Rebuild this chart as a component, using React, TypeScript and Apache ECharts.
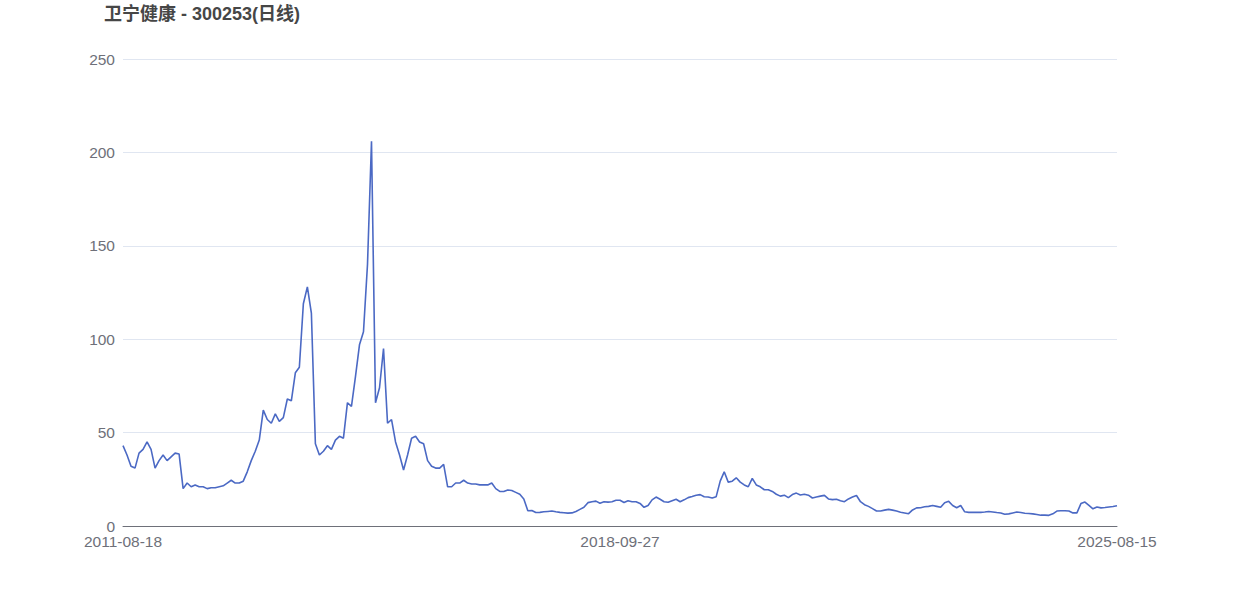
import React, { useEffect, useRef } from "react";
import * as echarts from "echarts";

const TITLE = "卫宁健康 - 300253(日线)";

// dates shown on the axis (first, middle, last sample)
const ANCHOR_DATES = ["2011-08-18", "2018-09-27", "2025-08-15"];

// closing prices, evenly spaced in time (249 samples)
const PRICES_2011_2013: number[] = [
  43, 38, 32, 31, 39, 41, 45, 41, 31, 35,
  38, 35, 37, 39, 38.5, 20, 23, 21, 22, 21,
  21, 20, 20.5, 20.5, 21, 21.5, 23, 24.5, 23, 23,
  24, 29,
];
const PRICES_2013_2015: number[] = [
  35, 40, 46, 62, 57, 55, 60, 56, 58, 68,
  67, 82, 85, 119, 128, 114, 44, 38, 40, 43,
  41, 46, 48, 47, 66, 64, 80, 97, 104, 140,
  206, 66, 74, 95, 55, 57, 45, 38, 30, 38,
  47, 48, 45, 44, 35, 32, 31, 31, 33,
];
const PRICES_2016_2018: number[] = [
  21, 21, 23, 23, 24.5, 23, 22.5, 22.5, 22, 22,
  22, 23, 20, 18.5, 18.5, 19.3, 19, 18, 17, 14.5,
  8.2, 8.3, 7.2, 7.3, 7.6, 7.8, 8, 7.6, 7.3, 7.1,
  6.9, 7, 7.8, 8.9, 10, 12.5, 13, 13.3, 12.2, 13,
  12.8, 13, 13.8, 13.8,
];
const PRICES_2018_2021: number[] = [
  12.6, 13.5, 13, 13, 12.1, 10, 11, 14, 15.5, 14.3,
  13, 12.7, 13.5, 14.3, 13, 14, 15.2, 15.8, 16.5, 16.8,
  15.7, 15.5, 15, 15.7, 24, 29, 23.5, 24, 25.8, 23.5,
  22, 21, 25.5, 22, 21, 19.4, 19.4, 18.5, 17, 16,
  16.5, 15.2, 16.8, 17.6, 16.6, 17, 16.5, 15, 15.5, 16,
  16.4, 14.5, 14.1, 14.3, 13.5, 13, 14.5, 15.5, 16.3, 13,
];
const PRICES_2022_2025: number[] = [
  11.4, 10.5, 9.3, 8, 8, 8.5, 8.9, 8.5, 8, 7.4,
  7, 6.6, 8.6, 9.7, 9.8, 10.3, 10.5, 11, 10.5, 10,
  12.5, 13.2, 11, 9.8, 11, 7.6, 7.3, 7.3, 7.3, 7.3,
  7.5, 7.8, 7.5, 7.2, 7, 6.3, 6.5, 7, 7.5, 7.2,
  6.8, 6.7, 6.5, 6.2, 5.8, 5.8, 5.7, 6.5, 8, 8.2,
  8.2, 8, 7, 7, 12, 12.8, 11, 9.2, 10.2, 9.7,
  9.9, 10.2, 10.4, 10.8,
];

const Y_MIN = 0;
const Y_MAX = 250;
const Y_STEP = 50;

const PRICES = [
  ...PRICES_2011_2013,
  ...PRICES_2013_2015,
  ...PRICES_2016_2018,
  ...PRICES_2018_2021,
  ...PRICES_2022_2025,
];

function buildDates(n: number): string[] {
  // category labels: spread between the three anchor dates
  const mid = Math.floor((n - 1) / 2);
  const t = ANCHOR_DATES.map((d) => Date.parse(d + "T00:00:00Z"));
  const out: string[] = [];
  for (let i = 0; i < n; i++) {
    let ms: number;
    if (i <= mid) ms = t[0] + ((t[1] - t[0]) * i) / mid;
    else ms = t[1] + ((t[2] - t[1]) * (i - mid)) / (n - 1 - mid);
    out.push(new Date(ms).toISOString().slice(0, 10));
  }
  out[0] = ANCHOR_DATES[0];
  out[mid] = ANCHOR_DATES[1];
  out[n - 1] = ANCHOR_DATES[2];
  return out;
}

export default function App() {
  const ref = useRef<HTMLDivElement>(null);

  useEffect(() => {
    if (!ref.current) return;
    const chart = echarts.init(ref.current, undefined, { renderer: "svg" });
    const n = PRICES.length;
    const dates = buildDates(n);
    const mid = Math.floor((n - 1) / 2);
    const font = "'Liberation Sans', Arial, 'Noto Sans CJK SC', sans-serif";

    chart.setOption({
      animation: false,
      title: {
        text: TITLE,
        left: 99,
        top: 0,
        textStyle: {
          fontSize: 18,
          fontWeight: "bold",
          color: "#464646",
          fontFamily: font,
        },
      },
      grid: { left: 123, right: 125, top: 59, bottom: 70, containLabel: false },
      xAxis: {
        type: "category",
        data: dates,
        boundaryGap: false,
        axisLine: { lineStyle: { color: "#6e7079" } },
        axisTick: { show: false },
        axisLabel: {
          color: "#6e7079",
          fontSize: 15.5,
          fontFamily: font,
          margin: 8,
          interval: (idx: number) => idx === 0 || idx === mid || idx === n - 1,
          showMinLabel: true,
          showMaxLabel: true,
        },
        splitLine: { show: false },
      },
      yAxis: {
        type: "value",
        min: Y_MIN,
        max: Y_MAX,
        interval: Y_STEP,
        axisLine: { show: false },
        axisTick: { show: false },
        axisLabel: {
          color: "#6e7079",
          fontSize: 15.5,
          fontFamily: font,
          margin: 8,
        },
        splitLine: { lineStyle: { color: "#e0e6f1" } },
      },
      series: [
        {
          type: "line",
          data: PRICES,
          symbol: "none",
          showSymbol: false,
          lineStyle: { color: "#4b69c4", width: 1.6 },
          itemStyle: { color: "#4b69c4" },
        },
      ],
    });

    return () => chart.dispose();
  }, []);

  return (
    <div
      ref={ref}
      style={{ position: "absolute", left: 0, top: 0, width: 1242, height: 596 }}
    />
  );
}
